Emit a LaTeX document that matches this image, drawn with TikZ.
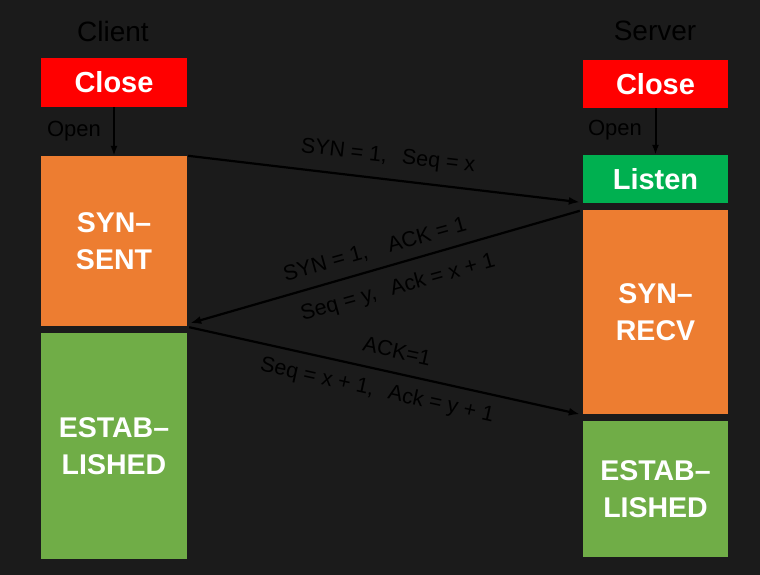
\documentclass[tikz,border=0pt]{standalone}
\usepackage{fontspec}
\setmainfont{Liberation Sans}
\usetikzlibrary{arrows.meta,calc}
\definecolor{bg}{HTML}{1B1B1B}
\definecolor{cred}{HTML}{FF0000}
\definecolor{corange}{HTML}{ED7D31}
\definecolor{clisten}{HTML}{00B050}
\definecolor{cest}{HTML}{70AD47}
\tikzset{
  box/.style={rectangle, inner sep=0pt, draw=none, text=white, align=center,
    font=\fontsize{28.5}{37}\selectfont\bfseries},
  title/.style={text=black, font=\fontsize{28}{32}\selectfont},
  small/.style={text=black, font=\fontsize{22}{24}\selectfont},
  msg/.style={text=black, font=\fontsize{21.5}{22}\selectfont, inner sep=0pt},
  flow/.style={draw=black, line width=2.2pt, -{Latex[length=11pt,width=8pt]}},
  openarrow/.style={draw=black, line width=2pt, -{Latex[length=10pt,width=7pt]}}
}
\begin{document}
\begin{tikzpicture}[x=1pt,y=-1pt]
\useasboundingbox (0,0) rectangle (760,575);
\fill[bg] (0,0) rectangle (760,575);

% titles
\node[title] (client) at (113,31) {Client};
\node[title] (server) at (655,31) {Server};

% client boxes
\node[box, fill=cred, minimum width=146pt, minimum height=49pt,
  font=\fontsize{29}{32}\selectfont\bfseries] (cclose) at (114,82.5) {Close};
\node[box, fill=corange, minimum width=146pt, minimum height=170pt] (csent) at (114,241) {SYN–\\SENT};
\node[box, fill=cest, minimum width=146pt, minimum height=226pt] (cestab) at (114,446) {ESTAB–\\LISHED};

% server boxes
\node[box, fill=cred, minimum width=145pt, minimum height=48pt,
  font=\fontsize{29}{32}\selectfont\bfseries] (sclose) at (655.5,84) {Close};
\node[box, fill=clisten, minimum width=145pt, minimum height=48pt,
  font=\fontsize{29}{32}\selectfont\bfseries] (slisten) at (655.5,179) {Listen};
\node[box, fill=corange, minimum width=145pt, minimum height=204pt] (srecv) at (655.5,312) {SYN–\\RECV};
\node[box, fill=cest, minimum width=145pt, minimum height=136pt] (sestab) at (655.5,489) {ESTAB–\\LISHED};

% open arrows
\draw[openarrow] (cclose.south) -- (csent.north);
\draw[openarrow] (sclose.south) -- (slisten.north);
\node[small] (copen) at (74,131) {Open};
\node[small] (sopen) at (615,130) {Open};

% handshake arrows
\coordinate (a1s) at ($(csent.north east)+(1,0)$);
\coordinate (a1e) at ($(slisten.south west)+(-3,-1)$);
\coordinate (a2s) at ($(srecv.north west)+(-3,1)$);
\coordinate (a2e) at ($(csent.south east)+(3,-3)$);
\coordinate (a3s) at ($(csent.south east)+(2,1)$);
\coordinate (a3e) at ($(srecv.south west)+(-3,0)$);
\draw[flow] (a1s) -- (a1e);
\draw[flow] (a2s) -- (a2e);
\draw[flow] (a3s) -- (a3e);

% labels
\node[msg, rotate=-6.5] (l1) at (388,157) {SYN = 1,\hspace{0.7em}Seq = x};
\node[msg, rotate=15.5] (l2a) at (375,250) {SYN = 1,\hspace{1em}ACK = 1};
\node[msg, rotate=15.5] (l2b) at (398,288) {Seq = y,\hspace{0.7em}Ack = x + 1};
\node[msg, rotate=-12.4] (l3a) at (397,351) {ACK=1};
\node[msg, rotate=-12.4] (l3b) at (377,391) {Seq = x + 1,\hspace{0.7em}Ack = y + 1};
\end{tikzpicture}
\end{document}
